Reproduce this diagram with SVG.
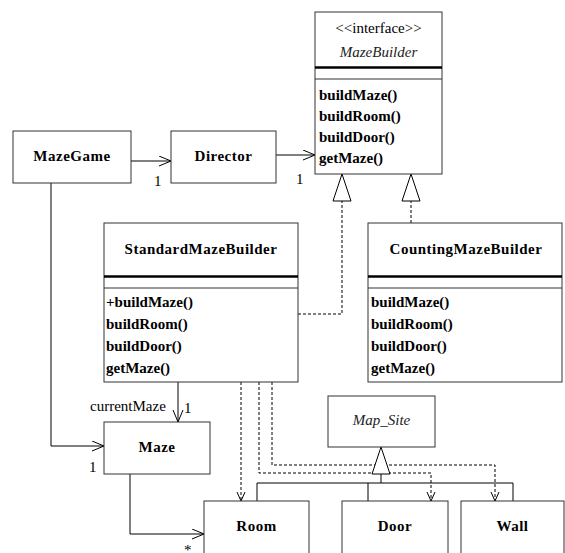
<svg xmlns="http://www.w3.org/2000/svg" width="565" height="553" viewBox="0 0 565 553">
  <style>
    .box { fill: #ffffff; stroke: #333333; stroke-width: 1; }
    .sep { stroke: #000000; stroke-width: 2.5; }
    .thin { stroke: #333333; stroke-width: 1; }
    .title { font-family: "Liberation Serif", "Times New Roman", serif; font-size: 15px; font-weight: bold; letter-spacing: 0.5px; fill: #000; text-anchor: middle; }
    .op { font-family: "Liberation Serif", "Times New Roman", serif; font-size: 15px; font-weight: bold; fill: #000; }
    .lbl { font-family: "Liberation Serif", "Times New Roman", serif; font-size: 15px; fill: #000; }
    .ital { font-family: "Liberation Serif", "Times New Roman", serif; font-size: 15px; font-style: italic; fill: #222; text-anchor: middle; }
    .assoc { fill: none; stroke: #000; stroke-width: 1; }
    .dash { fill: none; stroke: #000; stroke-width: 1; stroke-dasharray: 3 2; }
    .tri { fill: #ffffff; stroke: #000; stroke-width: 1; }
  </style>
  <defs>
    <marker id="open" markerUnits="userSpaceOnUse" markerWidth="14" markerHeight="12" refX="13" refY="5.5" orient="auto">
      <path d="M1,0.5 L13,5.5 L1,10.5" fill="none" stroke="#000" stroke-width="1"/>
    </marker>
    <marker id="dep" markerUnits="userSpaceOnUse" markerWidth="12" markerHeight="10" refX="10" refY="4.5" orient="auto">
      <path d="M1,0.5 L10,4.5 L1,8.5" fill="none" stroke="#000" stroke-width="1"/>
    </marker>
  </defs>

  <!-- connectors -->
  <g id="connectors">
    <!-- associations -->
    <path class="assoc" d="M131,161 H171" marker-end="url(#open)"/>
    <path class="assoc" d="M276,155 H315" marker-end="url(#open)"/>
    <path class="assoc" d="M51,183 V446 H104" marker-end="url(#open)"/>
    <path class="assoc" d="M178,382 V422" marker-end="url(#open)"/>
    <path class="assoc" d="M130,474 V534 H204" marker-end="url(#open)"/>
    <!-- realizations of MazeBuilder -->
    <path class="dash" d="M298,314 H342 V201"/>
    <polygon class="tri" points="342,174 333,201 351,201"/>
    <path class="dash" d="M411,223 V201"/>
    <polygon class="tri" points="411,174 402,201 420,201"/>
    <!-- dependencies on the products -->
    <path class="dash" d="M241,382 V501" marker-end="url(#dep)"/>
    <path class="dash" d="M259,382 V473 H431 V501" marker-end="url(#dep)"/>
    <path class="dash" d="M272,382 V465 H495 V501" marker-end="url(#dep)"/>
    <!-- generalization to Map_Site -->
    <path class="assoc" d="M381,474 V483 M257,501 V483 H513 V501 M368,483 V501"/>
    <polygon class="tri" points="381,447 372,474 390,474"/>
    <!-- multiplicities and role names -->
    <text class="lbl" x="154" y="186">1</text>
    <text class="lbl" x="296" y="184">1</text>
    <text class="lbl" x="90" y="411">currentMaze</text>
    <text class="lbl" x="184" y="413">1</text>
    <text class="lbl" x="89" y="472">1</text>
    <text class="lbl" x="184" y="555">*</text>
  </g>

  <g id="MazeBuilder">
    <rect class="box" x="315" y="12" width="127" height="162"/>
    <text class="lbl" x="378.5" y="33" text-anchor="middle">&lt;&lt;interface&gt;&gt;</text>
    <text class="ital" x="378.5" y="57">MazeBuilder</text>
    <line class="sep" x1="315" y1="67.5" x2="442" y2="67.5"/>
    <line class="thin" x1="315" y1="79" x2="442" y2="79"/>
    <text class="op" x="319" y="100">buildMaze()</text>
    <text class="op" x="319" y="121">buildRoom()</text>
    <text class="op" x="319" y="142">buildDoor()</text>
    <text class="op" x="319" y="163">getMaze()</text>
  </g>

  <g id="MazeGame">
    <rect class="box" x="13" y="131" width="118" height="52"/>
    <text class="title" x="72" y="161">MazeGame</text>
  </g>

  <g id="Director">
    <rect class="box" x="171" y="131" width="105" height="52"/>
    <text class="title" x="223.5" y="161">Director</text>
  </g>

  <g id="StandardMazeBuilder">
    <rect class="box" x="104" y="223" width="194" height="159"/>
    <text class="title" x="201" y="254">StandardMazeBuilder</text>
    <line class="sep" x1="104" y1="276.5" x2="298" y2="276.5"/>
    <line class="thin" x1="104" y1="288" x2="298" y2="288"/>
    <text class="op" x="106" y="307">+buildMaze()</text>
    <text class="op" x="106" y="329">buildRoom()</text>
    <text class="op" x="106" y="351">buildDoor()</text>
    <text class="op" x="106" y="373">getMaze()</text>
  </g>

  <g id="CountingMazeBuilder">
    <rect class="box" x="368" y="223" width="194" height="159"/>
    <text class="title" x="466" y="254">CountingMazeBuilder</text>
    <line class="sep" x1="368" y1="276.5" x2="562" y2="276.5"/>
    <line class="thin" x1="368" y1="288" x2="562" y2="288"/>
    <text class="op" x="371" y="307">buildMaze()</text>
    <text class="op" x="371" y="329">buildRoom()</text>
    <text class="op" x="371" y="351">buildDoor()</text>
    <text class="op" x="371" y="373">getMaze()</text>
  </g>

  <g id="Maze">
    <rect class="box" x="104" y="422" width="106" height="52"/>
    <text class="title" x="157" y="452">Maze</text>
  </g>

  <g id="Map_Site">
    <rect class="box" x="328" y="396" width="107" height="51"/>
    <text class="ital" x="381.5" y="425">Map_Site</text>
  </g>

  <g id="Room">
    <rect class="box" x="204" y="501" width="105" height="60"/>
    <text class="title" x="256.5" y="531">Room</text>
  </g>

  <g id="Door">
    <rect class="box" x="342" y="501" width="106" height="60"/>
    <text class="title" x="395" y="531">Door</text>
  </g>

  <g id="Wall">
    <rect class="box" x="461" y="501" width="103" height="60"/>
    <text class="title" x="512.5" y="531">Wall</text>
  </g>
</svg>
